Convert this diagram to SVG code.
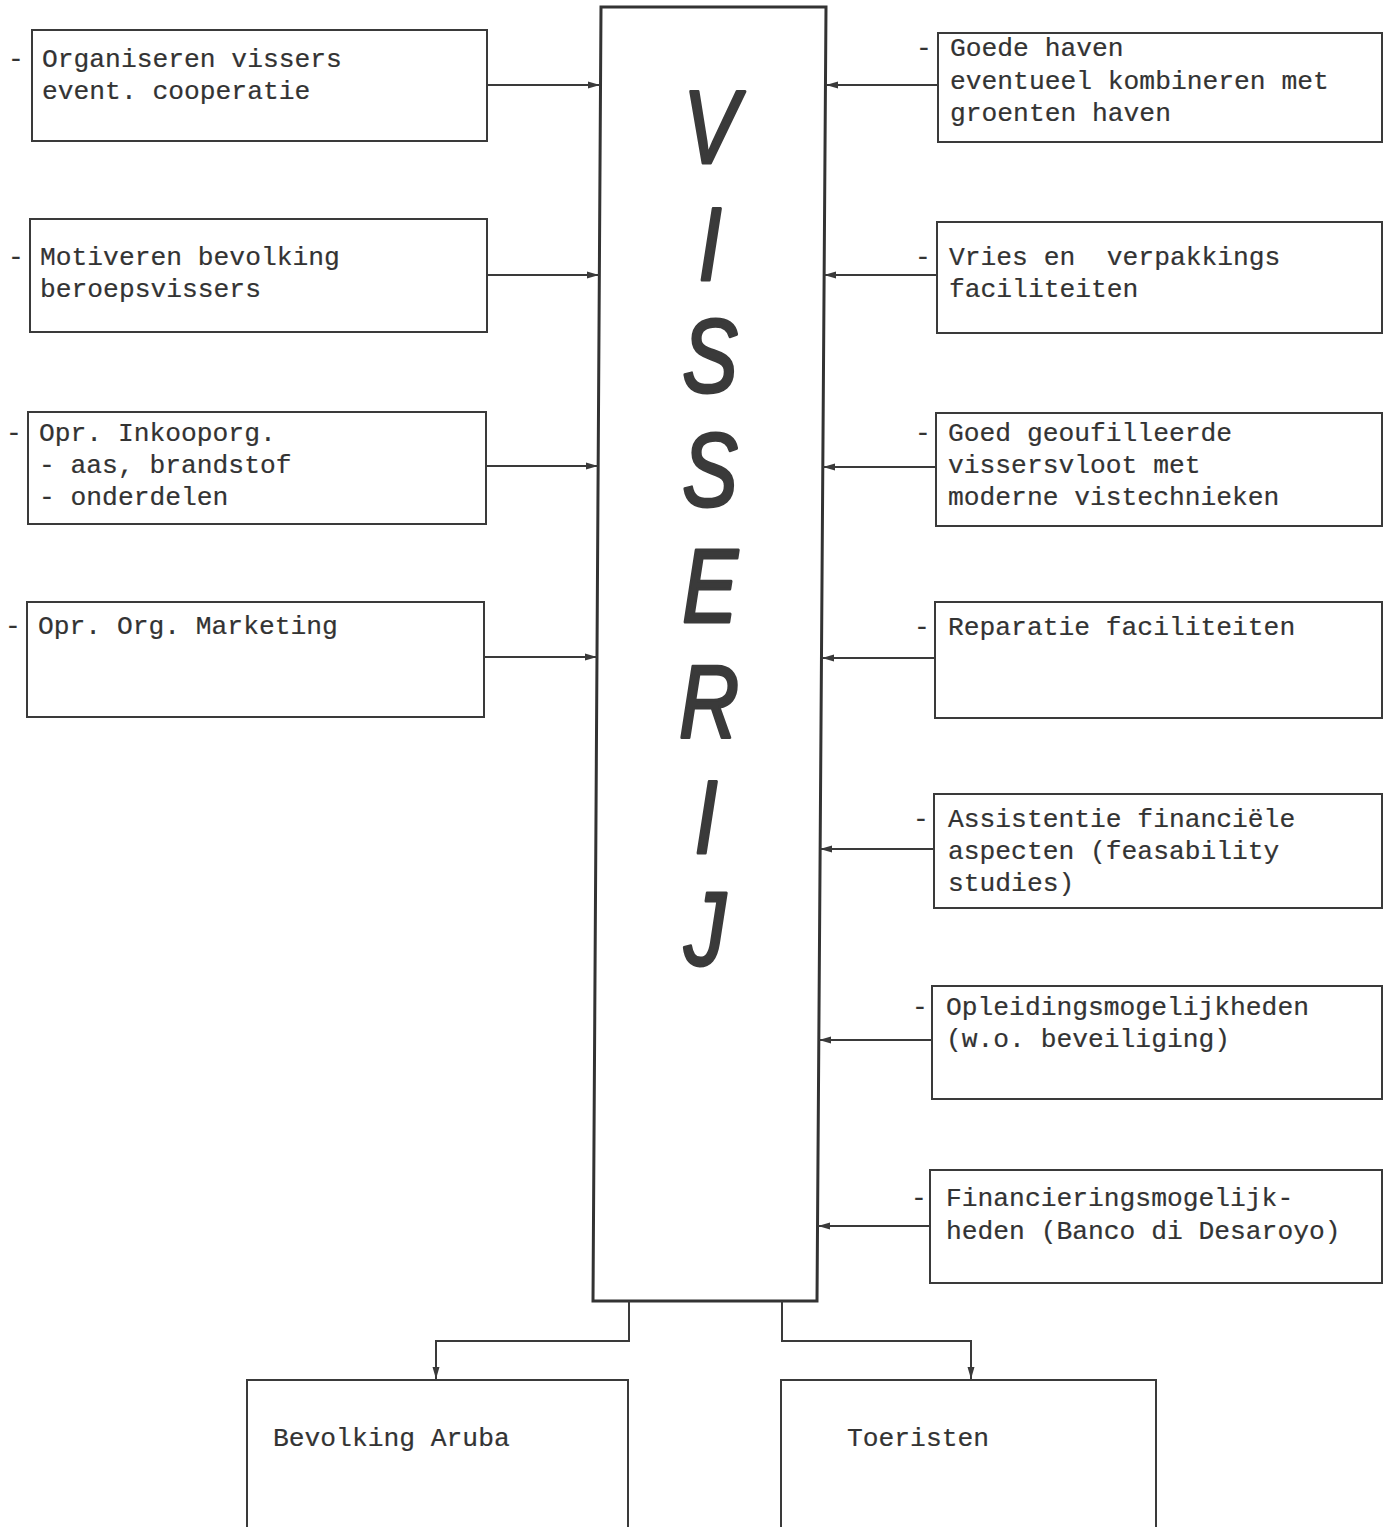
<svg xmlns="http://www.w3.org/2000/svg" width="1389" height="1527" viewBox="0 0 1389 1527">
<style>
.bg{fill:#ffffff}
.box{fill:none;stroke:#3a3a3a;stroke-width:2}
.main{fill:none;stroke:#333;stroke-width:3}
.t{font-family:"Liberation Mono","Courier New",monospace;font-size:26.3px;fill:#333;stroke:#333;stroke-width:0.2}
.big{font-family:"Liberation Sans",Arial,sans-serif;font-style:italic;font-size:104px;fill:#3a3a3a;stroke:#3a3a3a;stroke-width:3;stroke-linejoin:round;stroke-linecap:round;text-anchor:middle}
.c{fill:none;stroke:#3a3a3a;stroke-width:2}
</style>
<defs>
<marker id="ah" markerUnits="userSpaceOnUse" markerWidth="13" markerHeight="9" refX="12" refY="4.5" orient="auto">
<path d="M0,1 L12,4.5 L0,8 z" fill="#3a3a3a"/>
</marker>
</defs>
<rect class="bg" x="0" y="0" width="1389" height="1527"/>

<g id="visserij">
<path class="main" d="M601,7 L826,7 L817,1301 L593,1301 Z"/>
<text class="big" transform="translate(711,163) scale(0.8,1)">V</text>
<text class="big" transform="translate(710,280) scale(0.8,1)">I</text>
<text class="big" transform="translate(710,392) scale(0.8,1)">S</text>
<text class="big" transform="translate(710,506) scale(0.8,1)">S</text>
<text class="big" transform="translate(710,622) scale(0.8,1)">E</text>
<text class="big" transform="translate(709,738) scale(0.8,1)">R</text>
<text class="big" transform="translate(706,853) scale(0.8,1)">I</text>
<text class="big" transform="translate(705,965) scale(0.8,1)">J</text>
</g>

<g id="l1">
<rect class="box" x="32" y="30" width="455" height="111"/>
<text class="t" x="8" y="67">-</text>
<text class="t" x="42" y="67">Organiseren vissers</text>
<text class="t" x="42" y="99">event. cooperatie</text>
</g>
<g id="l2">
<rect class="box" x="30" y="219" width="457" height="113"/>
<text class="t" x="8" y="265">-</text>
<text class="t" x="40" y="265">Motiveren bevolking</text>
<text class="t" x="40" y="297">beroepsvissers</text>
</g>
<g id="l3">
<rect class="box" x="28" y="412" width="458" height="112"/>
<text class="t" x="6" y="441">-</text>
<text class="t" x="39" y="441">Opr. Inkooporg.</text>
<text class="t" x="39" y="473">- aas, brandstof</text>
<text class="t" x="39" y="505">- onderdelen</text>
</g>
<g id="l4">
<rect class="box" x="27" y="602" width="457" height="115"/>
<text class="t" x="5" y="634">-</text>
<text class="t" x="38" y="634">Opr. Org. Marketing</text>
</g>

<g id="r1">
<rect class="box" x="938" y="33" width="444" height="109"/>
<text class="t" x="916" y="56">-</text>
<text class="t" x="950" y="56">Goede haven</text>
<text class="t" x="950" y="89">eventueel kombineren met</text>
<text class="t" x="950" y="121">groenten haven</text>
</g>
<g id="r2">
<rect class="box" x="937" y="222" width="445" height="111"/>
<text class="t" x="915" y="265">-</text>
<text class="t" x="949" y="265" xml:space="preserve">Vries en  verpakkings</text>
<text class="t" x="949" y="297">faciliteiten</text>
</g>
<g id="r3">
<rect class="box" x="936" y="413" width="446" height="113"/>
<text class="t" x="915" y="441">-</text>
<text class="t" x="948" y="441">Goed geoufilleerde</text>
<text class="t" x="948" y="473">vissersvloot met</text>
<text class="t" x="948" y="505">moderne vistechnieken</text>
</g>
<g id="r4">
<rect class="box" x="935" y="602" width="447" height="116"/>
<text class="t" x="914" y="635">-</text>
<text class="t" x="948" y="635">Reparatie faciliteiten</text>
</g>
<g id="r5">
<rect class="box" x="934" y="794" width="448" height="114"/>
<text class="t" x="913" y="827">-</text>
<text class="t" x="948" y="827">Assistentie financiële</text>
<text class="t" x="948" y="859">aspecten (feasability</text>
<text class="t" x="948" y="891">studies)</text>
</g>
<g id="r6">
<rect class="box" x="932" y="986" width="450" height="113"/>
<text class="t" x="912" y="1015">-</text>
<text class="t" x="946" y="1015">Opleidingsmogelijkheden</text>
<text class="t" x="946" y="1047">(w.o. beveiliging)</text>
</g>
<g id="r7">
<rect class="box" x="930" y="1170" width="452" height="113"/>
<text class="t" x="911" y="1206">-</text>
<text class="t" x="946" y="1206">Financieringsmogelijk-</text>
<text class="t" x="946" y="1239">heden (Banco di Desaroyo)</text>
</g>

<g id="b1">
<path class="box" d="M247,1530 L247,1380 L628,1380 L628,1530"/>
<text class="t" x="273" y="1446">Bevolking Aruba</text>
</g>
<g id="b2">
<path class="box" d="M781,1530 L781,1380 L1156,1380 L1156,1530"/>
<text class="t" x="847" y="1446">Toeristen</text>
</g>

<g id="connectors">
<line class="c" x1="487" y1="85" x2="600" y2="85" marker-end="url(#ah)"/>
<line class="c" x1="487" y1="275" x2="599" y2="275" marker-end="url(#ah)"/>
<line class="c" x1="486" y1="466" x2="598" y2="466" marker-end="url(#ah)"/>
<line class="c" x1="484" y1="657" x2="597" y2="657" marker-end="url(#ah)"/>
<line class="c" x1="938" y1="85" x2="826" y2="85" marker-end="url(#ah)"/>
<line class="c" x1="937" y1="275" x2="824" y2="275" marker-end="url(#ah)"/>
<line class="c" x1="936" y1="467" x2="823" y2="467" marker-end="url(#ah)"/>
<line class="c" x1="935" y1="658" x2="822" y2="658" marker-end="url(#ah)"/>
<line class="c" x1="934" y1="849" x2="820" y2="849" marker-end="url(#ah)"/>
<line class="c" x1="932" y1="1040" x2="819" y2="1040" marker-end="url(#ah)"/>
<line class="c" x1="930" y1="1226" x2="818" y2="1226" marker-end="url(#ah)"/>
<path class="c" d="M629,1301 L629,1341 L436,1341 L436,1379" marker-end="url(#ah)"/>
<path class="c" d="M782,1301 L782,1341 L971,1341 L971,1379" marker-end="url(#ah)"/>
</g>
</svg>
